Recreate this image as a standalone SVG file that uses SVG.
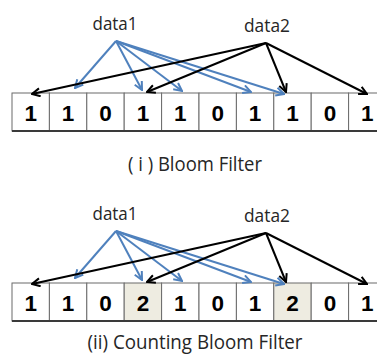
<svg xmlns="http://www.w3.org/2000/svg" width="377" height="356" viewBox="0 0 377 356">
  <defs>
    <style>
      .cell { fill: #ffffff; stroke: #6b6b6b; stroke-width: 1; }
      .hit { fill: #eeece1; }
      .base { stroke: #3a3a3a; stroke-width: 2; }
      .bit { font-family: "Liberation Sans", Arial, sans-serif; font-weight: bold; font-size: 22.5px; fill: #000; text-anchor: middle; }
      .label { font-family: "Open Sans", "Noto Sans", sans-serif; font-size: 19px; fill: #262626; text-anchor: middle; }
      .caption { font-family: "Open Sans", "Noto Sans", sans-serif; font-size: 20px; fill: #262626; text-anchor: middle; }
      .blue { stroke: #4f81bd; stroke-width: 2; fill: none; marker-end: url(#headBlue); }
      .black { stroke: #000; stroke-width: 2; fill: none; marker-end: url(#headBlack); }
    </style>
    <marker id="headBlue" viewBox="0 0 10 10" refX="9" refY="5" markerWidth="10" markerHeight="10" markerUnits="userSpaceOnUse" orient="auto">
      <path d="M1,1 L9,5 L1,9" fill="none" stroke="#4f81bd" stroke-width="2"/>
    </marker>
    <marker id="headBlack" viewBox="0 0 10 10" refX="9" refY="5" markerWidth="10" markerHeight="10" markerUnits="userSpaceOnUse" orient="auto">
      <path d="M1,1 L9,5 L1,9" fill="none" stroke="#000" stroke-width="2"/>
    </marker>
  </defs>
  <rect width="377" height="356" fill="#ffffff"/>

  <!-- (i) Bloom filter -->
  <g id="bloom">
    <g id="bloom-cells">
      <rect class="cell" x="12" y="93" width="37.4" height="38"/>
      <rect class="cell" x="49.4" y="93" width="37.4" height="38"/>
      <rect class="cell" x="86.8" y="93" width="37.4" height="38"/>
      <rect class="cell" x="124.2" y="93" width="37.4" height="38"/>
      <rect class="cell" x="161.6" y="93" width="37.4" height="38"/>
      <rect class="cell" x="199" y="93" width="37.4" height="38"/>
      <rect class="cell" x="236.4" y="93" width="37.4" height="38"/>
      <rect class="cell" x="273.8" y="93" width="37.4" height="38"/>
      <rect class="cell" x="311.2" y="93" width="37.4" height="38"/>
      <rect class="cell" x="348.6" y="93" width="37.4" height="38"/>
      <line class="base" x1="12" y1="131" x2="377" y2="131"/>
    </g>
    <g id="bloom-bits">
      <text class="bit" x="30.7" y="121">1</text>
      <text class="bit" x="68.1" y="121">1</text>
      <text class="bit" x="105.5" y="121">0</text>
      <text class="bit" x="142.9" y="121">1</text>
      <text class="bit" x="180.3" y="121">1</text>
      <text class="bit" x="217.7" y="121">0</text>
      <text class="bit" x="255.1" y="121">1</text>
      <text class="bit" x="292.5" y="121">1</text>
      <text class="bit" x="329.9" y="121">0</text>
      <text class="bit" x="367.3" y="121">1</text>
    </g>
    <g id="bloom-data1"><text class="label" x="115" y="30" textLength="45" lengthAdjust="spacingAndGlyphs">data1</text></g>
    <g id="bloom-data2"><text class="label" x="267" y="32" textLength="46" lengthAdjust="spacingAndGlyphs">data2</text></g>
    <g id="bloom-connectors">
      <line class="blue" x1="116" y1="41" x2="75" y2="88"/>
      <line class="blue" x1="116" y1="41" x2="142" y2="90"/>
      <line class="blue" x1="116" y1="41" x2="182" y2="91"/>
      <line class="blue" x1="116" y1="41" x2="251" y2="92"/>
      <line class="blue" x1="116" y1="41" x2="284" y2="94"/>
      <line class="black" x1="266" y1="43" x2="32" y2="94"/>
      <line class="black" x1="266" y1="43" x2="147" y2="92"/>
      <line class="black" x1="266" y1="43" x2="286" y2="92"/>
      <line class="black" x1="266" y1="43" x2="367" y2="94"/>
    </g>
    <text class="caption" x="195" y="171" textLength="134" lengthAdjust="spacingAndGlyphs">( i ) Bloom Filter</text>
  </g>

  <!-- (ii) Counting Bloom filter -->
  <g id="counting">
    <g id="counting-cells">
      <rect class="cell" x="12" y="283" width="37.4" height="38"/>
      <rect class="cell" x="49.4" y="283" width="37.4" height="38"/>
      <rect class="cell" x="86.8" y="283" width="37.4" height="38"/>
      <rect class="cell hit" x="124.2" y="283" width="37.4" height="38"/>
      <rect class="cell" x="161.6" y="283" width="37.4" height="38"/>
      <rect class="cell" x="199" y="283" width="37.4" height="38"/>
      <rect class="cell" x="236.4" y="283" width="37.4" height="38"/>
      <rect class="cell hit" x="273.8" y="283" width="37.4" height="38"/>
      <rect class="cell" x="311.2" y="283" width="37.4" height="38"/>
      <rect class="cell" x="348.6" y="283" width="37.4" height="38"/>
      <line class="base" x1="12" y1="321" x2="377" y2="321"/>
    </g>
    <g id="counting-bits">
      <text class="bit" x="30.7" y="311">1</text>
      <text class="bit" x="68.1" y="311">1</text>
      <text class="bit" x="105.5" y="311">0</text>
      <text class="bit" x="142.9" y="311">2</text>
      <text class="bit" x="180.3" y="311">1</text>
      <text class="bit" x="217.7" y="311">0</text>
      <text class="bit" x="255.1" y="311">1</text>
      <text class="bit" x="292.5" y="311">2</text>
      <text class="bit" x="329.9" y="311">0</text>
      <text class="bit" x="367.3" y="311">1</text>
    </g>
    <g id="counting-data1"><text class="label" x="115" y="220" textLength="45" lengthAdjust="spacingAndGlyphs">data1</text></g>
    <g id="counting-data2"><text class="label" x="267" y="222" textLength="46" lengthAdjust="spacingAndGlyphs">data2</text></g>
    <g id="counting-connectors">
      <line class="blue" x1="116" y1="231" x2="75" y2="278"/>
      <line class="blue" x1="116" y1="231" x2="142" y2="280"/>
      <line class="blue" x1="116" y1="231" x2="182" y2="281"/>
      <line class="blue" x1="116" y1="231" x2="251" y2="282"/>
      <line class="blue" x1="116" y1="231" x2="284" y2="284"/>
      <line class="black" x1="266" y1="233" x2="32" y2="284"/>
      <line class="black" x1="266" y1="233" x2="147" y2="282"/>
      <line class="black" x1="266" y1="233" x2="286" y2="282"/>
      <line class="black" x1="266" y1="233" x2="367" y2="284"/>
    </g>
    <text class="caption" x="195" y="349" textLength="215" lengthAdjust="spacingAndGlyphs">(ii) Counting Bloom Filter</text>
  </g>
</svg>
